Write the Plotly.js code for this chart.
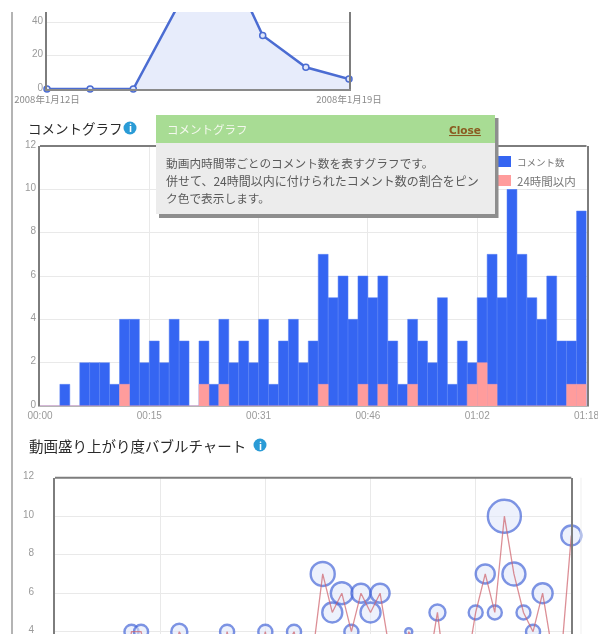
<!DOCTYPE html>
<html>
<head>
<meta charset="utf-8">
<script src="https://cdn.plot.ly/plotly-3.0.1.min.js"></script>
<style>html,body{margin:0;padding:0;background:#fff;overflow:hidden}#chart{width:598px;height:634px;filter:blur(0.6px)}</style>
</head>
<body>
<div id="chart"></div>
<script>
// Top area chart: daily values
const dayIndex = [0, 1, 2, 3, 4, 5, 6, 7];
const dayValues = [0, 0, 0, 48, 87, 32, 13, 6];
const dayTickVals = [0, 7];
const dayTickText = ['2008年1月12日', '2008年1月19日'];

// Comment graph: one entry per time bin
const commentCounts = [0,0,1,0,2,2,2,1,4,4,2,3,2,4,3,0,3,1,4,2,3,2,4,1,3,4,2,3,7,5,6,4,6,5,6,3,1,4,3,2,5,1,3,2,5,7,5,10,7,5,4,6,3,3,9];
const within24h     = [0,0,0,0,0,0,0,0,1,0,0,0,0,0,0,0,1,0,1,0,0,0,0,0,0,0,0,0,1,0,0,0,1,0,1,0,0,1,0,0,0,0,0,1,2,1,0,0,0,0,0,0,0,1,1];
const timeTickBins = [0, 11, 22, 33, 44, 55];
const timeTickText = ['00:00', '00:15', '00:31', '00:46', '01:02', '01:18'];
const seriesNames = ['コメント数', '24時間以内'];
const seriesColors = ['#3565f2', '#ff9c9c'];

// Bubble chart: bubble diameters per time bin
const bubbleDiameters = [6,6,8,6,10,10,10,8,14,14,10,12,10,16,12,6,12,8,14,10,12,10,14,8,12,14,10,12,24,20,22,14,19,20,19,12,8,7,12,10,16,8,12,10,14,19,14,33,23,14,14,20,12,12,20];

const bubbleX = commentCounts.map((_, i) => i);
const binCenters = commentCounts.map((_, i) => i + 0.5);

const W = 598, H = 634;
const fx = x => x / W, fy = y => 1 - y / H;
const CJK = '"Noto Sans CJK JP", sans-serif';
const LAT = '"Liberation Sans", Arial, sans-serif';
const tickFont = {family: LAT + ',' + CJK, size: 10, color: '#9a9a9a'};
const gridC = '#e9e9e9', frameC = '#7d7d7d';

const traces = [
  {x: dayIndex, y: dayValues, xaxis: 'x', yaxis: 'y', type: 'scatter', mode: 'lines+markers', fill: 'tozeroy',
   fillcolor: '#e7ecfb', line: {color: '#4b6cd2', width: 2.5}, cliponaxis: false, showlegend: false,
   marker: {size: 6, color: '#dfe6fa', line: {color: '#4b6cd2', width: 1.5}}, hoverinfo: 'skip'},
  {x: binCenters, y: commentCounts, xaxis: 'x2', yaxis: 'y2', type: 'bar', width: 1, name: seriesNames[0], showlegend: false,
   marker: {color: seriesColors[0], line: {color: '#5a82f4', width: 0.5}}, hoverinfo: 'skip'},
  {x: binCenters, y: within24h, xaxis: 'x2', yaxis: 'y2', type: 'bar', width: 1, name: seriesNames[1], showlegend: false,
   marker: {color: seriesColors[1], line: {color: '#f9a0a6', width: 0.5}}, hoverinfo: 'skip'},
  {x: bubbleX, y: commentCounts, xaxis: 'x3', yaxis: 'y3', type: 'scatter', mode: 'markers', cliponaxis: false, showlegend: false,
   marker: {size: bubbleDiameters, sizemode: 'diameter', color: 'rgba(224,231,250,0.8)', line: {color: '#4566d8', width: 2.4}}, hoverinfo: 'skip'},
  {x: bubbleX, y: commentCounts, xaxis: 'x3', yaxis: 'y3', type: 'scatter', mode: 'lines', cliponaxis: false, showlegend: false,
   line: {color: 'rgba(205,95,105,0.7)', width: 1.3}, hoverinfo: 'skip'}
];

const rect = (x0, y0, x1, y1, fill) => ({type: 'rect', xref: 'paper', yref: 'paper', x0: fx(x0), x1: fx(x1), y0: fy(y1), y1: fy(y0), fillcolor: fill, line: {width: 0}, layer: 'above'});
const seg = (x0, y0, x1, y1, color, width) => ({type: 'line', xref: 'paper', yref: 'paper', x0: fx(x0), x1: fx(x1), y0: fy(y0), y1: fy(y1), line: {color, width}, layer: 'above'});
const dot = (cx, cy, r, fill) => ({type: 'circle', xref: 'paper', yref: 'paper', x0: fx(cx - r), x1: fx(cx + r), y0: fy(cy + r), y1: fy(cy - r), fillcolor: fill, line: {width: 0}, layer: 'above'});

const shapes = [
  rect(0, 0, W, 12, '#ffffff'),                  // crop at the top of the picture
  seg(12, 12, 12, H, '#b4b4b4', 2),              // page column rule
  seg(40, 146, 586.5, 146, frameC, 2),           // comment graph top frame
  seg(55, 477.7, 571.3, 477.7, frameC, 2),       // bubble chart top frame
  seg(581, 477.7, 581, H, '#efefef', 1),
  dot(130, 128, 6.5, '#2a9bd6'),
  dot(260, 445, 6.5, '#2a9bd6'),
  rect(496, 148, 583, 189, '#ffffff'),           // legend box
  rect(498, 156, 511, 167, seriesColors[0]),
  rect(498, 175, 511, 186, seriesColors[1]),
  rect(159, 118, 498.5, 218, '#8e8e8e'),         // popup shadow
  rect(156, 143, 495, 214, '#ececec'),           // popup body
  rect(156, 115, 495, 143, '#a8dc94')            // popup header
];

const note = (x, y, text, size, color, extra) => Object.assign({
  xref: 'paper', yref: 'paper', x: fx(x), y: fy(y), text, showarrow: false, xanchor: 'left', yanchor: 'middle',
  font: {family: CJK, size, color}, borderpad: 0
}, extra || {});

const annotations = [
  note(27, 128, 'コメントグラフ', 13.5, '#2a2a2a'),
  note(130, 128, '<b>i</b>', 10, '#ffffff', {xanchor: 'center'}),
  note(28, 445, '動画盛り上がり度バブルチャート', 14.5, '#2a2a2a'),
  note(260, 445, '<b>i</b>', 10, '#ffffff', {xanchor: 'center'}),
  note(166, 129, 'コメントグラフ', 11.5, '#f4f8ee'),
  note(482, 130, '<b><u>Close</u></b>', 10, '#8a5a20', {xanchor: 'right', font: {family: '"DejaVu Sans", sans-serif', size: 10.5, color: '#8a5a20'}}),
  note(165, 163, '動画内時間帯ごとのコメント数を表すグラフです。', 11.7, '#5a5a5a'),
  note(165, 180, '併せて、24時間以内に付けられたコメント数の割合をピン', 12, '#5a5a5a'),
  note(165, 197, 'ク色で表示します。', 11.7, '#5a5a5a'),
  note(516, 162, seriesNames[0], 9.5, '#777777'),
  note(516, 181, seriesNames[1], 11.5, '#777777')
];

const baseY = {showgrid: true, gridcolor: gridC, gridwidth: 1, zeroline: false, showline: true, linecolor: frameC, linewidth: 2, mirror: true, tickfont: tickFont, fixedrange: true, ticks: '', ticklabeloverflow: 'allow', ticklabelshift: -2};
const baseX = {showgrid: true, gridcolor: gridC, gridwidth: 1, zeroline: false, showline: true, linecolor: '#b5b5b5', linewidth: 1, tickfont: tickFont, fixedrange: true, ticks: '', tickmode: 'array', ticklabeloverflow: 'allow'};

const layout = {
  width: W, height: H, margin: {l: 0, r: 0, t: 0, b: 0, pad: 0},
  paper_bgcolor: '#ffffff', plot_bgcolor: '#ffffff', barmode: 'overlay', bargap: 0,
  showlegend: false,
  xaxis: Object.assign({}, baseX, {domain: [fx(47), fx(349)], range: [0, 7], tickvals: dayTickVals, ticktext: dayTickText, showgrid: false, linecolor: '#8a8a8a', linewidth: 2, anchor: 'y', ticklabelstandoff: 1, tickfont: {family: CJK, size: 9.5, color: '#8a8a8a'}}),
  yaxis: Object.assign({}, baseY, {domain: [fy(89), fy(12)], range: [0, 46], tickvals: [0, 20, 40], anchor: 'x'}),
  xaxis2: Object.assign({}, baseX, {domain: [fx(40), fx(586.5)], range: [0, 55], tickvals: timeTickBins, ticktext: timeTickText, anchor: 'y2'}),
  yaxis2: Object.assign({}, baseY, {domain: [fy(406), fy(146)], range: [0, 12], dtick: 2, tick0: 0, anchor: 'x2'}),
  xaxis3: Object.assign({}, baseX, {domain: [fx(55), fx(571.3)], range: [0, 54], tickvals: timeTickBins, ticktext: timeTickBins.map(() => ''), anchor: 'y3'}),
  yaxis3: Object.assign({}, baseY, {domain: [0, fy(477.7)], range: [3.88, 12], tickvals: [4, 6, 8, 10, 12], ticklabelstandoff: 17, anchor: 'x3'}),
  shapes, annotations
};

Plotly.newPlot('chart', traces, layout, {displayModeBar: false, staticPlot: true});
</script>
</body>
</html>
